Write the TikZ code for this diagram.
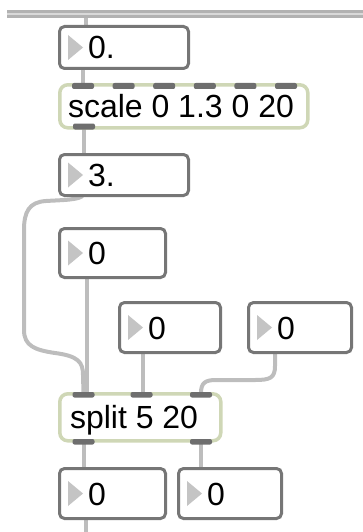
\documentclass[tikz,border=0pt]{standalone}
\usepackage{fontspec}
\setmainfont{Liberation Sans}
\usetikzlibrary{backgrounds}
\definecolor{cordc}{HTML}{BDBDBD}
\definecolor{numedge}{HTML}{767676}
\definecolor{objedge}{HTML}{CFD7B6}
\definecolor{tabc}{HTML}{6E6E6E}
\definecolor{trif}{HTML}{C4C4C4}
\begin{document}
\begin{tikzpicture}[x=1pt,y=-1pt,
  numbox/.style={draw=numedge, line width=3pt, fill=white, rounded corners=5pt, inner sep=0pt, outer sep=0pt, anchor=north west},
  objbox/.style={draw=objedge, line width=3.5pt, fill=white, rounded corners=8pt, inner sep=0pt, outer sep=0pt, anchor=north west},
  boxtext/.style={anchor=west, inner sep=0pt, font=\fontsize{32}{32}\selectfont, text height=23pt, text depth=0pt, text=black},
  cord/.style={draw=cordc, line width=4pt},
  tabshape/.style={fill=tabc, rounded corners=2pt},
  trishape/.style={fill=trif}]
\useasboundingbox (0,0) rectangle (363,532);

% top bar
\fill[gray!60] (7,10.5) rectangle (363,18.5);
\fill[gray!30] (7,13.5) rectangle (363,15.5);
\coordinate (tb) at (86,18.5);

% number boxes
\node[numbox, minimum width=129pt, minimum height=42pt] (b1) at (59.5,26.5) {};
\node[numbox, minimum width=129pt, minimum height=41pt] (b3) at (59.5,154.5) {};
\node[numbox, minimum width=106pt, minimum height=49pt] (b4) at (59.5,228.5) {};
\node[numbox, minimum width=101pt, minimum height=50pt] (b5) at (119.5,302.5) {};
\node[numbox, minimum width=103pt, minimum height=50pt] (b6) at (248.5,302.5) {};
\node[numbox, minimum width=106pt, minimum height=50pt] (b7) at (59.5,468.5) {};
\node[numbox, minimum width=103pt, minimum height=50pt] (b8) at (178.5,468.5) {};

% object boxes
\node[objbox, minimum width=248pt, minimum height=43pt] (sc) at (59.8,84.8) {};
\node[objbox, minimum width=161pt, minimum height=47pt] (sp) at (59.8,393.8) {};

% triangles and texts of number boxes
\foreach \b/\t in {b1/0., b3/3., b4/0, b5/0, b6/0, b7/0, b8/0}{
  \fill[trishape] ([xshift=8.5pt,yshift=12.5pt]\b.west) -- ++(15,12.5) -- ++(-15,12.5) -- cycle;
  \node[boxtext] (\b t) at ([xshift=28.5pt]\b.west) {\t};
}
\node[boxtext] (sct) at ([xshift=8pt]sc.west) {scale 0 1.3 0 20};
\node[boxtext] (spt) at ([xshift=10pt]sp.west) {split 5 20};

% inlets / outlets
\foreach \i/\x in {1/83, 2/123.6, 3/164.2, 4/204.8, 5/245.4, 6/286}{
  \fill[tabshape] (\x-11,83) rectangle ++(22,6);
  \coordinate (sci\i) at (\x,84);
}
\fill[tabshape] (73,123.5) rectangle ++(22,6);
\coordinate (sco) at (84,129);
\foreach \i/\x in {1/83.5, 2/141.5, 3/201}{
  \fill[tabshape] (\x-11,392) rectangle ++(22,5.5);
  \coordinate (spi\i) at (\x,393);
}
\coordinate (spi1b) at (87,393);
\coordinate (spi2b) at (143,393);
\foreach \i/\x in {1/83.5, 2/201}{
  \fill[tabshape] (\x-11,439) rectangle ++(22,5.5);
  \coordinate (spo\i) at (\x,443);
}
\coordinate (b3o) at (83,195);
\coordinate (b6o) at (275,353);
\coordinate (b7o) at (86,519);
\coordinate (bottomend) at (86,532);

% cords
\begin{pgfonlayer}{background}
\draw[cord] (tb) -- (tb |- b1.north);
\draw[cord] (b1.south -| sci1) -- (sci1);
\draw[cord] (sco) -- (sco |- b3.north);
\draw[cord] (b3o) .. controls (81,200) and (62,200) .. (46,201)
   .. controls (29,202) and (24,212) .. (24,230) -- (24,330)
   .. controls (24,346) and (35,350) .. (55,353)
   .. controls (78,356) and (83,362) .. (83,375) -- (spi1);
\draw[cord] (b4.south -| spi1b) -- (spi1b);
\draw[cord] (b5.south -| spi2b) -- (spi2b);
\draw[cord] (b6o) -- (275,366) .. controls (275,378) and (270,380) .. (255,380)
   -- (216,380) .. controls (205,380) and (201,383) .. (spi3);
\draw[cord] (spo1) -- (spo1 |- b7.north);
\draw[cord] (spo2) -- (spo2 |- b8.north);
\draw[cord] (b7o) -- (bottomend);
\end{pgfonlayer}
\end{tikzpicture}
\end{document}
